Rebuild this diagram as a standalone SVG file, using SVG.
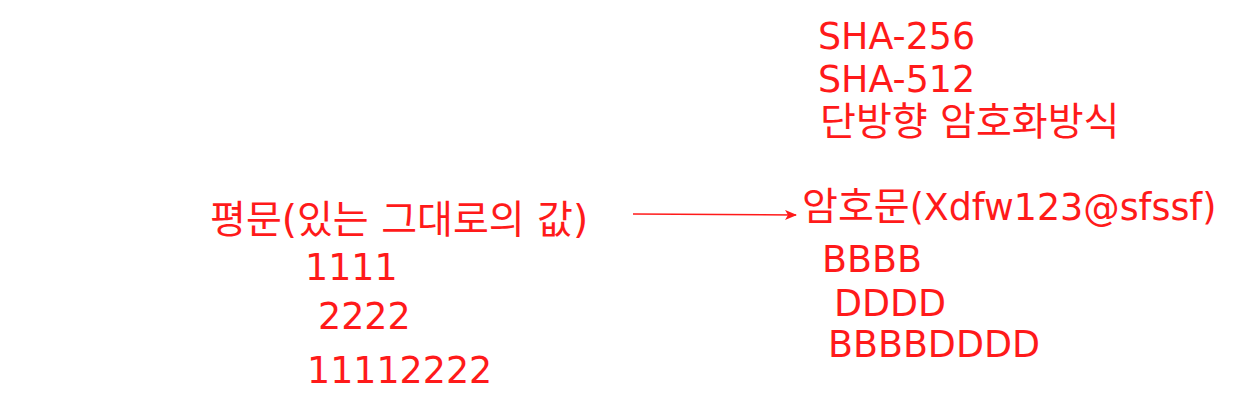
<svg xmlns="http://www.w3.org/2000/svg" width="1245" height="420" viewBox="0 0 1245 420">
<style>
text { font-family: "DejaVu Sans", "Noto Sans CJK KR", sans-serif; font-size: 36.4px; fill: #ff1a1a; }
.ko { font-size: 39px; }
.conn { stroke: #ff1a1a; stroke-width: 1.6; fill: none; }
</style>
<defs>
<marker id="ah" viewBox="0 0 12 10" refX="11" refY="5" markerWidth="12" markerHeight="10" markerUnits="userSpaceOnUse" orient="auto">
<path d="M0,0 L12,5 L0,10 L3,5 Z" fill="#ff1a1a"/>
</marker>
</defs>
<rect width="1245" height="420" fill="#ffffff"/>
<g id="connectors">
<line class="conn" x1="633" y1="214" x2="796" y2="215" marker-end="url(#ah)"/>
</g>
<g id="plaintext"><text class="ko" x="210" y="233">평문(있는 그대로의 값)</text></g>
<g id="p1111"><text x="305" y="280">1111</text></g>
<g id="p2222"><text x="318" y="329">2222</text></g>
<g id="p11112222"><text x="307" y="383">11112222</text></g>
<g id="sha256"><text x="818" y="49">SHA-256</text></g>
<g id="sha512"><text x="818" y="92">SHA-512</text></g>
<g id="oneway"><text class="ko" x="820" y="135">단방향 암호화방식</text></g>
<g id="ciphertext"><text x="802" y="220"><tspan class="ko">암호문</tspan>(Xdfw123@sfssf)</text></g>
<g id="bbbb"><text x="822" y="272">BBBB</text></g>
<g id="dddd"><text x="834" y="316">DDDD</text></g>
<g id="bbbbdddd"><text x="828" y="357">BBBBDDDD</text></g>
</svg>
